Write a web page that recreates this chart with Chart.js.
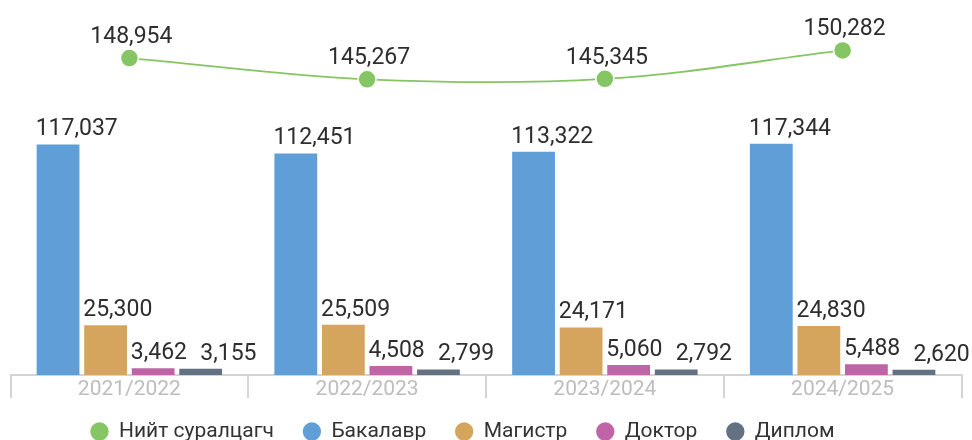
<!DOCTYPE html>
<html>
<head>
<meta charset="utf-8">
<script src="https://cdn.jsdelivr.net/npm/chart.js@4.4.1/dist/chart.umd.min.js"></script>
<style>
  html, body { margin: 0; padding: 0; background: #fff; }
  #wrap { width: 972px; height: 440px; }
</style>
</head>
<body>
<div id="wrap"><canvas id="chart"></canvas></div>
<script>
// school years and enrolment counts
const years = ['2021/2022', '2022/2023', '2023/2024', '2024/2025'];
const totalStudents = [148954, 145267, 145345, 150282];
const bachelor = [117037, 112451, 113322, 117344];
const master = [25300, 25509, 24171, 24830];
const doctor = [3462, 4508, 5060, 5488];
const diploma = [3155, 2799, 2792, 2620];

const FONT = 'Roboto';

/* value labels above bars and line points */
const valueLabels = {
  id: 'valueLabels',
  afterDatasetsDraw(chart) {
    const ctx = chart.ctx;
    ctx.save();
    ctx.font = '23px ' + FONT;
    ctx.fillStyle = '#2e2e2e';
    ctx.textBaseline = 'alphabetic';
    chart.data.datasets.forEach((ds, i) => {
      const meta = chart.getDatasetMeta(i);
      if (meta.hidden) return;
      meta.data.forEach((el, j) => {
        const txt = ds.data[j].toLocaleString('en-US');
        if (meta.type === 'line') {
          ctx.textAlign = 'center';
          ctx.fillText(txt, el.x + 2, el.y - 15);
        } else {
          ctx.textAlign = 'left';
          ctx.fillText(txt, el.x - el.width / 2 - 1 + (ds.labelShift || 0), el.y - 9);
        }
      });
    });
    ctx.restore();
  }
};

/* nudge the legend row into place */
const legendNudge = {
  id: 'legendNudge',
  afterLayout(chart) {
    const lg = chart.legend;
    lg.left -= 24; lg.right -= 24;
    lg.top -= 11; lg.bottom -= 11;
  }
};

const bar = (label, data, color, extra) =>
  Object.assign({ type: 'bar', label, data, backgroundColor: color, order: 1 }, extra);

new Chart(document.getElementById('chart'), {
  data: {
    labels: years,
    datasets: [
      {
        type: 'line', label: 'Нийт суралцагч', data: totalStudents, yAxisID: 'y1',
        borderColor: '#86c563', borderWidth: 1.8, tension: 0.35,
        pointRadius: 9, pointHoverRadius: 9,
        pointBackgroundColor: '#86c563', pointBorderColor: '#fff', pointBorderWidth: 1.5,
        order: 0
      },
      bar('Бакалавр', bachelor, '#5f9ed6'),
      bar('Магистр', master, '#d5a55d'),
      bar('Доктор', doctor, '#c064a7'),
      bar('Диплом', diploma, '#627282', { labelShift: 22 })
    ]
  },
  options: {
    responsive: true,
    maintainAspectRatio: false,
    animation: false,
    categoryPercentage: 0.8,
    barPercentage: 0.9,
    layout: { padding: { top: 10, left: 10, right: 9, bottom: -23 } },
    plugins: {
      tooltip: { enabled: false },
      legend: {
        position: 'bottom',
        labels: {
          usePointStyle: true,
          boxWidth: 18,
          boxHeight: 13,
          padding: 29,
          color: '#333',
          font: { family: FONT, size: 21 },
          generateLabels(chart) {
            const items = Chart.defaults.plugins.legend.labels.generateLabels(chart);
            items.forEach(it => { it.lineWidth = 0; it.strokeStyle = 'transparent'; });
            return items;
          }
        }
      }
    },
    scales: {
      x: {
        grid: { drawOnChartArea: false, drawTicks: true, tickLength: 23, color: '#d4d4d4', lineWidth: 2 },
        border: { color: '#d4d4d4', width: 2 },
        ticks: { color: '#bdbdbd', font: { family: FONT, size: 21 }, padding: -21 },
        afterFit(scale) { scale.height = 28; }
      },
      y: { display: false, min: 0, max: 185000 },
      y1: { display: false, min: 94000, max: 157200 }
    }
  },
  plugins: [valueLabels, legendNudge]
});
</script>
</body>
</html>
